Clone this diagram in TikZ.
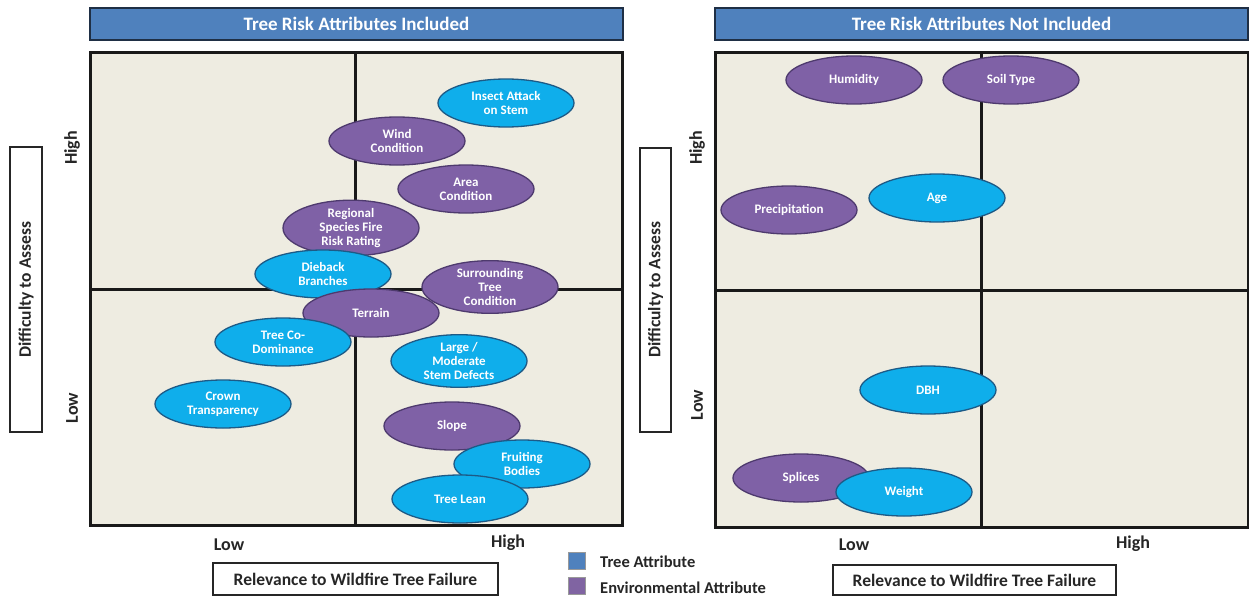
\documentclass[tikz,border=0pt]{standalone}
\usepackage{fontspec}
\setmainfont{Carlito}
\usetikzlibrary{shapes.geometric}

\definecolor{panelbg}{HTML}{EEECE1}
\definecolor{titleblue}{HTML}{4F81BD}
\definecolor{titleedge}{HTML}{1F2F45}
\definecolor{treefill}{HTML}{0FAEEB}
\definecolor{treeedge}{HTML}{1D5A86}
\definecolor{envfill}{HTML}{7F61A6}
\definecolor{envedge}{HTML}{4E3A6E}
\definecolor{legblue}{HTML}{4F81BD}
\definecolor{legpurple}{HTML}{8064A2}
\definecolor{labelgrey}{HTML}{262626}

\tikzset{
  bubble/.style={ellipse, minimum width=136pt, minimum height=48pt, inner sep=0pt,
    align=center, text=white, font=\fontsize{13}{14}\selectfont\bfseries, line width=1.3pt},
  treeattr/.style={bubble, fill=treefill, draw=treeedge},
  envattr/.style={bubble, fill=envfill, draw=envedge},
  titlebar/.style={rectangle, fill=titleblue, draw=titleedge, line width=1.6pt,
    minimum width=533pt, minimum height=32pt, inner sep=0pt, text=white,
    font=\fontsize{19}{20}\selectfont\bfseries},
  plotbox/.style={fill=panelbg, draw=black!90, line width=3pt},
  divider/.style={draw=black!90, line width=3pt},
  axisbox/.style={rectangle, draw=black!85, line width=1.4pt, fill=white, inner sep=0pt,
    text=labelgrey, font=\fontsize{17.5}{19}\selectfont\bfseries},
  ticklabel/.style={text=labelgrey, font=\fontsize{18}{19}\selectfont\bfseries, inner sep=0pt},
  legendsq/.style={rectangle, minimum size=17pt, inner sep=0pt, draw=black!40, line width=0.4pt},
  legendtext/.style={anchor=west, text=labelgrey, font=\fontsize{16.5}{18}\selectfont\bfseries, inner sep=0pt}
}

\begin{document}
\begin{tikzpicture}[x=1pt, y=-1pt]
  \useasboundingbox (0,0) rectangle (1249,597);
  \fill[white] (0,0) rectangle (1249,597);

  % ---------- left panel: attributes included ----------
  \node[titlebar] (titleL) at (356.5,24) {Tree Risk Attributes Included};
  \draw[plotbox] (90,52) rectangle (622,525);
  \coordinate (Ltop) at (355,52);
  \coordinate (Lbot) at (355,525);
  \coordinate (Lleft) at (90,289);
  \coordinate (Lright) at (622,289);
  \draw[divider] (Ltop) -- (Lbot);
  \draw[divider] (Lleft) -- (Lright);

  \node[axisbox, rotate=90, minimum width=285pt, minimum height=32pt] (yaxL) at (26,289.5) {Difficulty to Assess};
  \node[ticklabel, rotate=90] (yhiL) at (72,148) {High};
  \node[ticklabel, rotate=90] (yloL) at (72,408) {Low};
  \node[ticklabel] (xloL) at (229,545) {Low};
  \node[ticklabel] (xhiL) at (508,543) {High};
  \node[axisbox, minimum width=285pt, minimum height=32pt] (xaxL) at (355.5,579) {Relevance to Wildfire Tree Failure};

  \node[treeattr] (insect) at (506,103) {Insect Attack\\on Stem};
  \node[envattr] (wind) at (397,141) {Wind\\Condition};
  \node[envattr] (area) at (466,189) {Area\\Condition};
  \node[envattr] (regional) at (351,228) {Regional\\Species Fire\\Risk Rating};
  \node[treeattr] (dieback) at (323,274) {Dieback\\Branches};
  \node[envattr] (surround) at (490,287) {Surrounding\\Tree\\Condition};
  \node[envattr] (terrain) at (371,313) {Terrain};
  \node[treeattr] (codom) at (283,342) {Tree Co-\\Dominance};
  \node[treeattr] (stem) at (459,361) {Large /\\Moderate\\Stem Defects};
  \node[treeattr] (crown) at (223,404) {Crown\\Transparency};
  \node[envattr] (slope) at (452,426) {Slope};
  \node[treeattr] (fruit) at (522,464) {Fruiting\\Bodies};
  \node[treeattr] (lean) at (460,499) {Tree Lean};

  % ---------- legend ----------
  \node[legendsq, fill=legblue] (legT) at (576.5,561) {};
  \node[legendsq, fill=legpurple] (legE) at (576.5,585.5) {};
  \node[legendtext] (legTt) at (600,562) {Tree Attribute};
  \node[legendtext] (legEt) at (600,588) {Environmental Attribute};

  % ---------- right panel: attributes not included ----------
  \node[titlebar] (titleR) at (981.5,24) {Tree Risk Attributes Not Included};
  \draw[plotbox] (715,52) rectangle (1248,527);
  \coordinate (Rtop) at (981,52);
  \coordinate (Rbot) at (981,527);
  \coordinate (Rleft) at (715,290);
  \coordinate (Rright) at (1248,290);
  \draw[divider] (Rtop) -- (Rbot);
  \draw[divider] (Rleft) -- (Rright);

  \node[axisbox, rotate=90, minimum width=284pt, minimum height=31pt] (yaxR) at (655.5,290) {Difficulty to Assess};
  \node[ticklabel, rotate=90] (yhiR) at (697,148) {High};
  \node[ticklabel, rotate=90] (yloR) at (697,405) {Low};
  \node[ticklabel] (xloR) at (854,545) {Low};
  \node[ticklabel] (xhiR) at (1133,544) {High};
  \node[axisbox, minimum width=283pt, minimum height=30pt] (xaxR) at (974.5,580) {Relevance to Wildfire Tree Failure};

  \node[envattr] (humid) at (854,80) {Humidity};
  \node[envattr] (soil) at (1011,80) {Soil Type};
  \node[envattr] (precip) at (789,210) {Precipitation};
  \node[treeattr] (age) at (937,198) {Age};
  \node[treeattr] (dbh) at (928,390) {DBH};
  \node[envattr] (splice) at (801,478) {Splices};
  \node[treeattr] (weight) at (904,492) {Weight};
\end{tikzpicture}
\end{document}
